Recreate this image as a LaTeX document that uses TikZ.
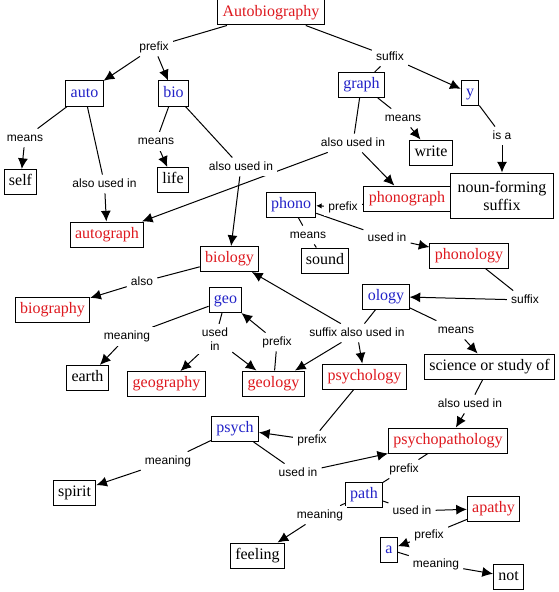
\documentclass[tikz,border=0pt]{standalone}
\usepackage{fontspec}
\setmainfont{Liberation Serif}
\setsansfont{Liberation Sans}
\usetikzlibrary{arrows.meta,backgrounds}
\definecolor{cred}{RGB}{222,24,30}
\definecolor{cblue}{RGB}{34,34,200}
\tikzset{
  cbase/.style={draw, fill=white, line width=0.75pt, inner xsep=3.6pt, inner ysep=2pt,
    minimum height=18.75pt, font=\fontsize{12}{13.5}\selectfont},
  concept/.style={cbase, text height=8.4pt, text depth=2.8pt},
  rc/.style={concept, text=cred},
  bc/.style={concept, text=cblue},
  lbase/.style={fill=white, inner xsep=3pt, inner ysep=2.5pt, font=\sffamily\fontsize{9}{10.5}\selectfont},
  lab/.style={lbase, text height=6.8pt, text depth=1.9pt},
  ln/.style={line width=0.75pt},
  ar/.style={line width=0.75pt, -{Latex[length=8pt,width=7.5pt]}},
  sar/.style={line width=0.75pt, -{Latex[length=4pt,width=4pt]}}
}
\begin{document}
\begin{tikzpicture}[x=0.75pt,y=-0.75pt]
\useasboundingbox (0,0) rectangle (558,592);
% concepts
\node[rc] (ab) at (271,12.5) {Autobiography};
\node[bc] (auto) at (84.5,93.5) {auto};
\node[bc] (bio) at (173.5,93.5) {bio};
\node[bc] (graph) at (361.5,85) {graph};
\node[bc] (y) at (470,93) {y};
\node[concept] (self) at (20.5,182) {self};
\node[concept] (life) at (173,180) {life};
\node[concept] (write) at (431,152.5) {write};
\node[cbase, align=center, minimum height=33.75pt, inner xsep=5pt] (nfs) at (502,195.5) {noun-forming\\suffix};
\node[rc] (phonograph) at (407,198.5) {phonograph};
\node[rc] (autograph) at (107,234.5) {autograph};
\node[bc] (phono) at (291,204.5) {phono};
\node[concept] (sound) at (325,260.5) {sound};
\node[rc] (biology) at (229.5,259) {biology};
\node[rc] (phonology) at (469,255.5) {phonology};
\node[rc] (biography) at (52.5,309.5) {biography};
\node[bc] (geo) at (225.5,300) {geo};
\node[bc] (ology) at (386,296.5) {ology};
\node[concept] (earth) at (87.5,378) {earth};
\node[rc] (geography) at (166.5,384) {geography};
\node[rc] (geology) at (273.5,383.5) {geology};
\node[rc] (psychology) at (364.5,376.5) {psychology};
\node[concept] (science) at (489.5,366.5) {science or study of};
\node[bc] (psych) at (235,429) {psych};
\node[rc] (psychopath) at (448,440.5) {psychopathology};
\node[concept] (spirit) at (74.5,492.5) {spirit};
\node[bc] (path) at (364,494.5) {path};
\node[rc] (apathy) at (493.5,508.5) {apathy};
\node[concept] (feeling) at (257.5,555.5) {feeling};
\node[bc] (a) at (389,549.5) {a};
\node[concept] (not) at (508.5,576.5) {not};
% linking phrases
\node[lab] (l1) at (154,47) {prefix};
\node[lab] (l2) at (390,57) {suffix};
\node[lab] (l3) at (25,138) {means};
\node[lab] (l4) at (104.5,184) {also used in};
\node[lab] (l5) at (156,141.5) {means};
\node[lab] (l6) at (241,167) {also used in};
\node[lab] (l7) at (403,118) {means};
\node[lab] (l8) at (353,143) {also used in};
\node[lab] (l9) at (502,136) {is a};
\node[lab] (l10) at (343,207) {prefix};
\node[lab] (l11) at (308,235) {means};
\node[lab] (l12) at (387,238) {used in};
\node[lab] (l13) at (142,282) {also};
\node[lab] (l14) at (525,300) {suffix};
\node[lab] (l15) at (127,336.5) {meaning};
\node[lbase, align=center] (l16) at (215,339) {used\\in};
\node[lab] (l17) at (277,342) {prefix};
\node[lab] (l18) at (357,333) {suffix also used in};
\node[lab] (l19) at (456,330) {means};
\node[lab] (l20) at (470,404) {also used in};
\node[lab] (l21) at (312,440) {prefix};
\node[lab] (l22) at (168,461) {meaning};
\node[lab] (l23) at (298,473) {used in};
\node[lab] (l24) at (404,469) {prefix};
\node[lab] (l25) at (320,515) {meaning};
\node[lab] (l26) at (412,511) {used in};
\node[lab] (l27) at (429,535) {prefix};
\node[lab] (l28) at (436,564) {meaning};
% connectors
\begin{pgfonlayer}{background}
\draw[ln] (ab) -- (l1); \draw[ar] (l1) -- (auto); \draw[ar] (l1) -- (bio);
\draw[ln] (ab) -- (l2); \draw[ln] (l2) -- (graph); \draw[ar] (l2) -- (y);
\draw[ln] (auto) -- (l3); \draw[ar] (l3) -- (self);
\draw[ln] (auto) -- (l4); \draw[ar] (l4) -- (autograph);
\draw[ln] (bio) -- (l5); \draw[ar] (l5) -- (life);
\draw[ln] (bio) -- (l6); \draw[ar] (l6) -- (biology);
\draw[ln] (graph) -- (l7); \draw[ar] (l7) -- (write);
\draw[ln] (graph) -- (l8); \draw[ar] (l8) -- (autograph); \draw[ar] (l8) -- (phonograph);
\draw[ln] (y) -- (l9); \draw[ar] (l9) -- (nfs);
\draw[ln] (phonograph) -- (l10); \draw[sar] (l10) -- (phono);
\draw[ln] (phono) -- (l11); \draw[ln] (l11) -- (sound);
\draw[ln] (phono) -- (l12); \draw[ar] (l12) -- (phonology);
\draw[ln] (biology) -- (l13); \draw[ar] (l13) -- (biography);
\draw[ln] (phonology) -- (l14); \draw[ar] (l14) -- (ology);
\draw[ln] (geo) -- (l15); \draw[ar] (l15) -- (earth);
\draw[ln] (geo) -- (l16); \draw[ar] (l16) -- (geography); \draw[ar] (l16) -- (geology);
\draw[ln] (geology) -- (l17); \draw[ar] (l17) -- (geo);
\draw[ln] (ology) -- (l18); \draw[ar] (l18) -- (biology); \draw[ar] (l18) -- (geology); \draw[ar] (l18) -- (psychology);
\draw[ln] (ology) -- (l19); \draw[ar] (l19) -- (science);
\draw[ln] (science) -- (l20); \draw[ar] (l20) -- (psychopath);
\draw[ln] (psychology) -- (l21); \draw[ar] (l21) -- (psych);
\draw[ln] (psych) -- (l22); \draw[ar] (l22) -- (spirit);
\draw[ln] (psych) -- (l23); \draw[ar] (l23) -- (psychopath);
\draw[ln] (psychopath) -- (l24); \draw[ln] (l24) -- (path);
\draw[ln] (path) -- (l25); \draw[ar] (l25) -- (feeling);
\draw[ln] (path) -- (l26); \draw[ar] (l26) -- (apathy);
\draw[ln] (apathy) -- (l27); \draw[ar] (l27) -- (a);
\draw[ln] (a) -- (l28); \draw[ar] (l28) -- (not);
\end{pgfonlayer}
\end{tikzpicture}
\end{document}
